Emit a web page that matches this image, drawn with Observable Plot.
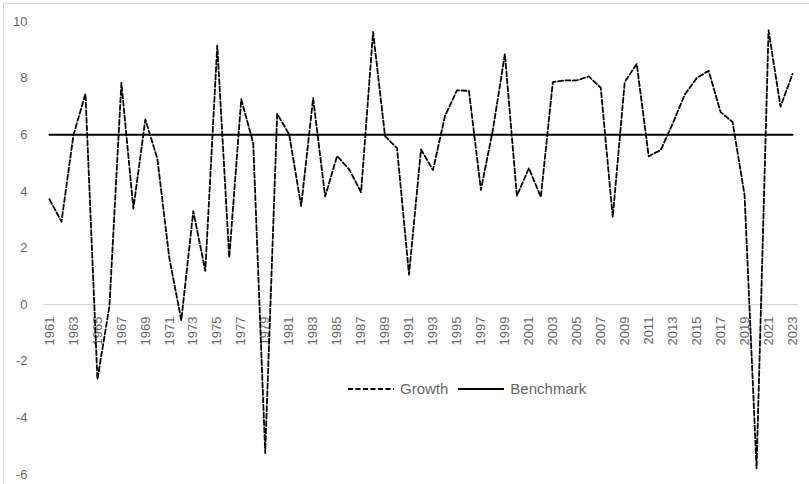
<!DOCTYPE html>
<html>
<head>
<meta charset="utf-8">
<script src="https://cdn.jsdelivr.net/npm/d3@7"></script>
<script src="https://cdn.jsdelivr.net/npm/@observablehq/plot@0.6"></script>
<style>
  body { margin: 0; background: #fff; font-family: "Liberation Sans", Arial, sans-serif; }
  #chart { position: relative; width: 809px; height: 484px; overflow: hidden; }
  #border { position: absolute; left: 3px; top: 3px; width: 830px; height: 520px;
            border: 1px solid #d9d9d9; box-sizing: border-box; pointer-events: none; }
  #legend { position: absolute; top: 380px; left: 348px; display: flex; align-items: center;
            font-size: 15px; color: #666; white-space: nowrap; }
  #legend .item { display: flex; align-items: center; margin-right: 10px; }
  #legend svg { margin-right: 6px; }
</style>
</head>
<body>
<div id="chart"><div id="border"></div></div>
<script>
// Annual GDP growth (%), 1961–2023, against a 6% benchmark
const years = d3.range(1961, 2024);
const growth = [
  3.72, 2.93, 5.99, 7.45, -2.64, -0.06, 7.83, 3.39, 6.54, 5.16,
  1.64, -0.55, 3.30, 1.19, 9.15, 1.66, 7.25, 5.71, -5.24, 6.74,
  6.01, 3.48, 7.29, 3.82, 5.25, 4.78, 3.97, 9.63, 5.95, 5.53,
  1.06, 5.48, 4.75, 6.66, 7.57, 7.55, 4.05, 6.18, 8.85, 3.84,
  4.82, 3.80, 7.86, 7.92, 7.92, 8.06, 7.66, 3.09, 7.86, 8.50,
  5.24, 5.46, 6.39, 7.41, 8.00, 8.26, 6.80, 6.45, 3.87, -5.78,
  9.69, 6.99, 8.15
];
const benchmark = 6;
const yTicks = [-6, -4, -2, 0, 2, 4, 6, 8, 10];
const labelYears = years.filter(y => y % 2 === 1);

const rows = years.map((year, i) => ({year, growth: growth[i], benchmark}));

const series = [
  {name: "Growth", dash: "5,2.5", width: 1.8},
  {name: "Benchmark", dash: null, width: 2}
];

const gray = "#666";

const chart = Plot.plot({
  width: 809,
  height: 484,
  marginLeft: 43,
  marginRight: 11,
  marginTop: 21,
  marginBottom: 10,
  style: {fontFamily: "'Liberation Sans', Arial, sans-serif", fontSize: "13px", background: "transparent"},
  x: {type: "linear", domain: [1960.5, 2023.5], axis: null},
  y: {domain: [-6, 10], axis: null},
  marks: [
    Plot.ruleY([0], {stroke: "#d9d9d9", strokeWidth: 1.2}),
    Plot.axisY({ticks: yTicks, tickSize: 0, tickPadding: 16, tickFormat: d => String(d),
                fill: gray, fontSize: 13}),
    Plot.text(labelYears, {x: d => d, y: 0, text: d => String(d), rotate: -90,
                           textAnchor: "end", dy: 12, fill: gray, fontSize: 13}),
    Plot.lineY(rows, {x: "year", y: "growth", stroke: "#000",
                      strokeWidth: series[0].width, strokeDasharray: series[0].dash}),
    Plot.lineY(rows, {x: "year", y: "benchmark", stroke: "#000",
                      strokeWidth: series[1].width})
  ]
});

const holder = document.getElementById("chart");
holder.appendChild(chart);

// Legend drawn over the lower part of the plot area
const legend = d3.select(holder).append("div").attr("id", "legend");
series.forEach(s => {
  const item = legend.append("div").attr("class", "item");
  const sw = item.append("svg").attr("width", 46).attr("height", 10);
  sw.append("line").attr("x1", 0).attr("x2", 46).attr("y1", 5).attr("y2", 5)
    .attr("stroke", "#000").attr("stroke-width", s.width)
    .attr("stroke-dasharray", s.dash);
  item.append("span").text(s.name);
});
</script>
</body>
</html>
